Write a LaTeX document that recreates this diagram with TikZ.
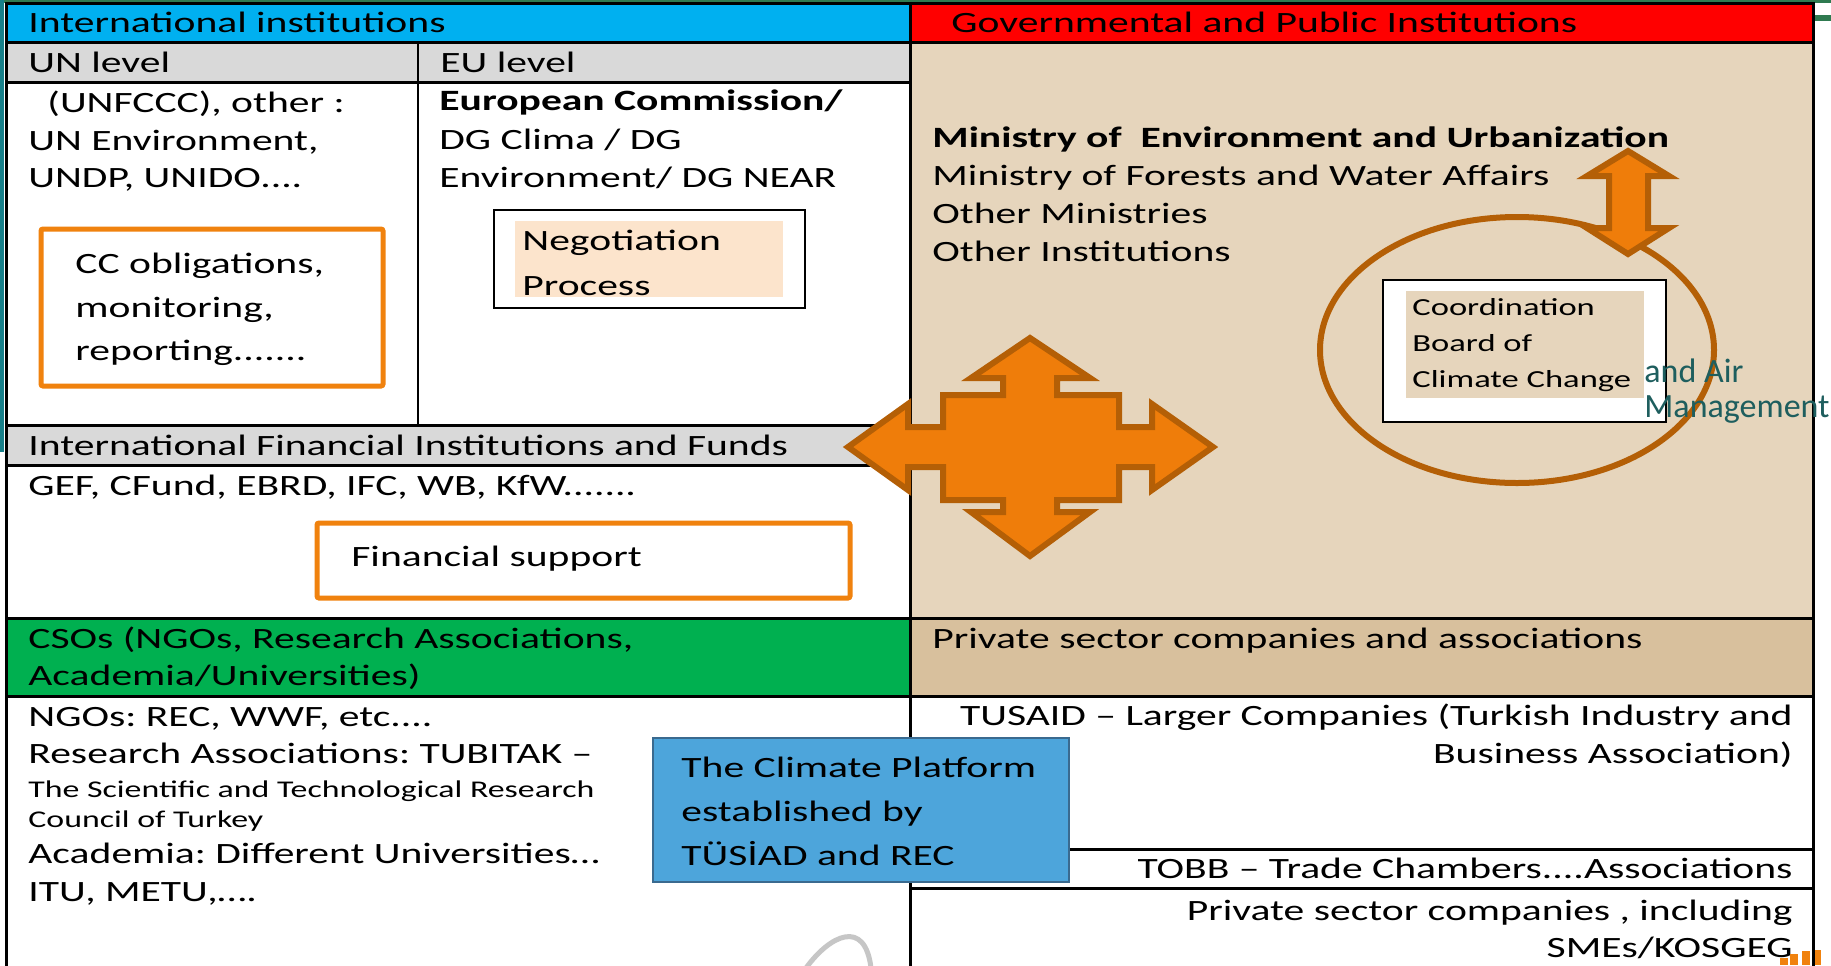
\documentclass[tikz,border=0pt]{standalone}
\usepackage{fontspec}
\setmainfont{Carlito}[FakeStretch=1.41]
\newfontfamily\tealfont{Carlito}
\frenchspacing
\definecolor{hdrblue}{HTML}{00B0F0}
\definecolor{hdrred}{HTML}{FF0000}
\definecolor{rowgrey}{HTML}{D9D9D9}
\definecolor{beige}{HTML}{E6D5BC}
\definecolor{tanrow}{HTML}{D8C09D}
\definecolor{csogreen}{HTML}{00B050}
\definecolor{platblue}{HTML}{4DA5DB}
\definecolor{platedge}{HTML}{3A6A8F}
\definecolor{peach}{HTML}{FCE4CC}
\definecolor{boxorange}{HTML}{F0820E}
\definecolor{arrowfill}{HTML}{EF7D0A}
\definecolor{arrowedge}{HTML}{B45F06}
\definecolor{tealtxt}{HTML}{1E5E5E}
\definecolor{slidegreen}{HTML}{2F7A50}
\definecolor{slideteal}{HTML}{17808A}
\newcommand\szmain{\fontsize{14.75}{19}\selectfont}
\newcommand\szsmall{\fontsize{12}{15}\selectfont}
\newcommand\szcoord{\fontsize{12.25}{15}\selectfont}
\newcommand\szteal{\fontsize{17}{17}\selectfont}
\begin{document}
\frenchspacing
\begin{tikzpicture}[x=0.5pt,y=-0.5pt,
  frame/.style={draw=black, line width=1.5pt},
  obox/.style={draw=boxorange, line width=2.5pt, rounded corners=1pt},
  bigarrow/.style={fill=arrowfill, draw=arrowedge, line width=3pt, line join=miter},
  txt/.style={anchor=base west, inner sep=0pt, font=\szmain},
  txtr/.style={anchor=base east, inner sep=0pt, font=\szmain},
  txtb/.style={anchor=base west, inner sep=0pt, font=\szmain\bfseries},
  txts/.style={anchor=base west, inner sep=0pt, font=\szsmall},
  txtc/.style={anchor=base west, inner sep=0pt, font=\szcoord},
  txtt/.style={anchor=base west, inner sep=0pt, font=\tealfont\szteal, text=tealtxt}]
\useasboundingbox (0,0) rectangle (1831,965);
\clip (0,0) rectangle (1831,965);
\fill[white] (0,0) rectangle (1831,965);

% slide decorations
\fill[slidegreen] (0,0) rectangle (1831,3);
\fill[slidegreen] (1813,15) rectangle (1831,21);
\fill[slideteal] (0,0) rectangle (4,452);

% fills
\fill[hdrblue] (6,3) rectangle (910,42);
\fill[hdrred] (910,3) rectangle (1813,42);
\fill[rowgrey] (6,42) rectangle (910,82);
\fill[rowgrey] (6,425) rectangle (910,465);
\fill[csogreen] (6,618) rectangle (910,696);
\fill[beige] (910,42) rectangle (1813,618);
\fill[tanrow] (910,618) rectangle (1813,696);

% grid lines
\draw[frame] (6,970) -- (6,3) -- (1813,3) -- (1813,970);
\draw[frame] (6,42) -- (1813,42);
\draw[frame] (6,82) -- (910,82);
\draw[frame] (6,425) -- (910,425);
\draw[frame] (6,465) -- (910,465);
\draw[frame] (6,618) -- (1813,618);
\draw[frame] (6,696) -- (1813,696);
\draw[frame] (910,3) -- (910,970);
\draw[line width=1pt] (418,42) -- (418,425);
\draw[frame] (1069,849) -- (1813,849);
\draw[frame] (910,888) -- (1813,888);

% headers
\node[txt] (hint) at (28,32) {International institutions};
\node[txt] (hgov) at (951,32) {Governmental and Public Institutions};
\node[txt] (hun) at (28,72) {UN level};
\node[txt] (heu) at (440,72) {EU level};

% UN column
\node[txt] (un1) at (47,112) {(UNFCCC), other :};
\node[txt] (un2) at (28,150) {UN Environment,};
\node[txt] (un3) at (28,187) {UNDP, UNIDO....};
\draw[obox] (41,229) rectangle (383,386);
\node[txt] (cc1) at (75,273) {CC obligations,};
\node[txt] (cc2) at (75,317) {monitoring,};
\node[txt] (cc3) at (75,360) {reporting.......};

% EU column
\node[txtb] (eu1) at (439,110) {European Commission/};
\node[txt] (eu2) at (439,149) {DG Clima / DG};
\node[txt] (eu3) at (439,187) {Environment/ DG NEAR};
\draw[line width=0.75pt, fill=white] (494,210) rectangle (805,308);
\fill[peach] (515,221) rectangle (783,297);
\node[txt] (neg1) at (522,250) {Negotiation};
\node[txt] (neg2) at (522,295) {Process};

% IFI
\node[txt] (ifi) at (28,455) {International Financial Institutions and Funds};
\node[txt] (gef) at (28,495) {GEF, CFund, EBRD, IFC, WB, KfW.......};
\draw[obox] (317,523) rectangle (850,598);
\node[txt] (fin) at (351,566) {Financial support};

% CSOs
\node[txt] (cso1) at (28,648) {CSOs (NGOs, Research Associations,};
\node[txt] (cso2) at (28,685) {Academia/Universities)};
\node[txt] (ngo) at (28,726) {NGOs: REC, WWF, etc....};
\node[txt] (res) at (28,763) {Research Associations: TUBITAK –};
\node[txts] (tub1) at (28,797) {The Scientific and Technological Research};
\node[txts] (tub2) at (28,827) {Council of Turkey};
\node[txt] (aca) at (28,863) {Academia: Different Universities…};
\node[txt] (itu) at (28,901) {ITU, METU,….};

% grey arc
\draw[gray!45, line width=2.5pt] (806,968) .. controls (830,935) and (865,918) .. (871,968);

% Climate platform box
\draw[fill=platblue, draw=platedge, line width=1pt] (653,738) rectangle (1069,882);
\node[txt] (pl1) at (681,777) {The Climate Platform};
\node[txt] (pl2) at (681,821) {established by};
\node[txt] (pl3) at (681,865) {TÜSİAD and REC};

% Governmental
\node[txtb] (gov1) at (932,147) {Ministry of~ Environment and Urbanization};
\node[txt] (gov2) at (932,185) {Ministry of Forests and Water Affairs};
\node[txt] (gov3) at (932,223) {Other Ministries};
\node[txt] (gov4) at (932,261) {Other Institutions};

% Coordination board
\draw[line width=1pt, fill=white] (1383,280) rectangle (1666,422);
\fill[beige] (1406,291) rectangle (1644,398);
\node[txtc] (cb1) at (1412,315) {Coordination};
\node[txtc] (cb2) at (1412,351) {Board of};
\node[txtc] (cb3) at (1412,387) {Climate Change};
\draw[arrowedge, line width=3pt] (1517,350) ellipse [x radius=98.5pt, y radius=66.5pt];

% vertical double arrow
\draw[bigarrow] (1628,151) -- (1669,176) -- (1648,176) -- (1648,228) -- (1669,228)
  -- (1628,254) -- (1587,228) -- (1609,228) -- (1609,176) -- (1587,176) -- cycle;

% quad arrow
\draw[bigarrow] (1030,338) -- (1090,378) -- (1057,378) -- (1057,395) -- (1119,395)
  -- (1119,427) -- (1152,427) -- (1152,404) -- (1213,447) -- (1152,490) -- (1152,467)
  -- (1119,467) -- (1119,500) -- (1057,500) -- (1057,512) -- (1090,512) -- (1030,556)
  -- (971,512) -- (1003,512) -- (1003,500) -- (943,500) -- (943,467) -- (908,467)
  -- (908,490) -- (848,447) -- (908,404) -- (908,427) -- (943,427) -- (943,395)
  -- (1003,395) -- (1003,378) -- (971,378) -- cycle;

% teal overflow text
\node[txtt] (air1) at (1644,382) {and Air};
\node[txtt] (air2) at (1644,417) {Management};

% Private sector
\node[txt] (priv) at (932,648) {Private sector companies and associations};
\node[txtr] (ps1) at (1793,725) {TUSAID – Larger Companies (Turkish Industry and};
\node[txtr] (ps2) at (1793,763) {Business Association)};
\node[txtr] (ps3) at (1793,878) {TOBB – Trade Chambers....Associations};
\node[txtr] (ps4) at (1793,920) {Private sector companies , including};
\node[txtr] (ps5) at (1793,957) {SMEs/KOSGEG};

% corner logo bars
\fill[boxorange] (1780,958) rectangle (1788,965);
\fill[boxorange] (1790,954) rectangle (1798,965);
\fill[boxorange] (1802,951) rectangle (1810,965);
\fill[boxorange] (1815,950) rectangle (1821,965);
\end{tikzpicture}
\end{document}
